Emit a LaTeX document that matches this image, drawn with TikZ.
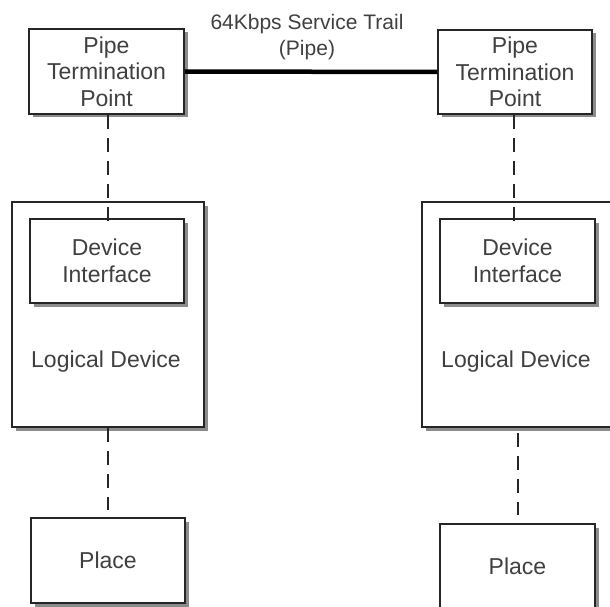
\documentclass[tikz,border=0pt]{standalone}
\usepackage{fontspec}
\setmainfont{Liberation Sans}
\usetikzlibrary{shadows}
\begin{document}
\begin{tikzpicture}[x=1pt,y=-1pt,
  box/.style={draw=black!85, line width=1.5pt, fill=white, inner sep=0pt,
    drop shadow={shadow xshift=3.5pt, shadow yshift=-3.5pt, fill=black!45, opacity=1}},
  txt/.style={text=black!75, align=center, font=\fontsize{23}{26.5}\selectfont},
  lbl/.style={text=black!75, align=center, font=\fontsize{21}{26}\selectfont},
  dashline/.style={draw=black!85, line width=1.5pt, dash pattern=on 14pt off 9pt},
  pipe/.style={draw=black, line width=4.5pt}]
\useasboundingbox (0,0) rectangle (610,607);
\clip (0,0) rectangle (610,607);
% left column
\node[box, minimum width=155pt, minimum height=85pt] (ptp1) at (106.5,71.5) {};
\node[txt] (ptp1t) at (106.5,71.5) {Pipe\\Termination\\Point};
\node[box, minimum width=192pt, minimum height=225pt] (ld1) at (108,314.5) {};
\node[txt] (ld1t) at (106,362) {Logical Device};
\node[box, minimum width=154pt, minimum height=84pt] (di1) at (107,261) {};
\node[txt] (di1t) at (107,261) {Device\\Interface};
\node[box, minimum width=154pt, minimum height=85pt] (pl1) at (108,560.5) {};
\node[txt] (pl1t) at (108,560) {Place};
% right column
\node[box, minimum width=154pt, minimum height=84pt] (ptp2) at (515,72) {};
\node[txt] (ptp2t) at (515,72) {Pipe\\Termination\\Point};
\node[box, minimum width=193pt, minimum height=225pt] (ld2) at (518.5,314.5) {};
\node[txt] (ld2t) at (516,362) {Logical Device};
\node[box, minimum width=155pt, minimum height=84pt] (di2) at (517.5,261) {};
\node[txt] (di2t) at (517.5,261) {Device\\Interface};
\node[box, minimum width=155pt, minimum height=85pt] (pl2) at (517.5,566.5) {};
\node[txt] (pl2t) at (517.5,566) {Place};
% pipe
\draw[pipe] (ptp1.east) -- (ptp2.west);
\node[lbl] (pipelbl) at (307,37) {64Kbps Service Trail\\(Pipe)};
% dashed links
\coordinate (d1end) at (108,228);
\coordinate (d2end) at (514,228);
\draw[dashline] (ptp1.south -| d1end) -- (d1end);
\draw[dashline] (ptp2.south -| d2end) -- (d2end);
\coordinate (d3end) at (108,510);
\coordinate (d4start) at (518,433);
\coordinate (d4end) at (518,515);
\draw[dashline] (ld1.south -| d3end) -- (d3end);
\draw[dashline] (d4start) -- (d4end);
\end{tikzpicture}
\end{document}
